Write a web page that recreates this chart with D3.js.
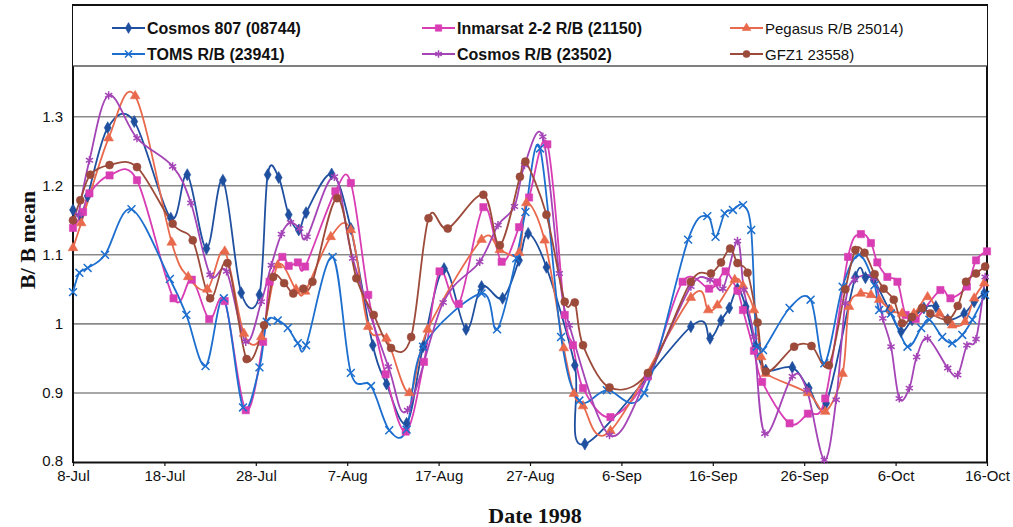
<!DOCTYPE html>
<html>
<head>
<meta charset="utf-8">
<script src="https://cdn.jsdelivr.net/npm/d3@7"></script>
<style>
  body { margin: 0; background: #fff; }
  svg { display: block; }
</style>
</head>
<body>
<svg id="chart" width="1013" height="527"></svg>
<script>
// Relative drag ratio B / B mean for six objects, summer-autumn 1998.
// Each point is [days after 8 Jul 1998, B / B mean].
const startDay = Date.UTC(1998, 6, 8);
const endDay = Date.UTC(1998, 9, 16);
const yTicks = [0.8, 0.9, 1, 1.1, 1.2, 1.3];

const seriesNames = [
  "Cosmos 807 (08744)", "Inmarsat 2-2 R/B (21150)", "Pegasus R/B 25014)",
  "TOMS R/B (23941)", "Cosmos R/B (23502)", "GFZ1 23558)"
];

const cosmos807 = [
  [0,1.165],[0.8,1.157],[1.6,1.185],[3.8,1.284],[6.7,1.293],[10.7,1.153],[12.5,1.216],
  [14.6,1.109],[16.4,1.208],[18.4,1.045],[20.4,1.042],[21.3,1.216],[22.5,1.212],[23.6,1.158],
  [24.7,1.136],[25.5,1.161],[28.3,1.217],[30.4,1.138],[32.8,0.969],[34.3,0.913],[36.5,0.856],
  [38.3,0.967],[40.6,1.080],[43.0,0.992],[44.7,1.054],[47.0,1.037],[48.8,1.092],[49.8,1.131],
  [51.8,1.082],[54.9,0.940],[56.0,0.826],[67.6,0.996],[69.7,0.979],[70.9,1.005],[71.8,1.023],
  [72.7,1.051],[73.6,1.025],[74.7,0.967],[75.8,0.933],[78.7,0.937],[80.5,0.907],[82.4,0.885],
  [85.6,1.068],[86.7,1.067],[87.6,1.064],[89.3,1.020],[90.6,0.989],[91.8,1.006],[93.1,1.023],
  [94.4,1.025],[95.7,1.006],[97.5,1.015],[98.6,1.032],[99.7,1.044]
];

const inmarsat = [
  [0,1.139],[1.1,1.162],[1.8,1.189],[4.0,1.215],[7.0,1.208],[11.0,1.037],[13.0,1.064],
  [14.9,1.007],[16.6,1.033],[18.9,0.875],[20.8,0.974],[21.5,1.061],[22.9,1.097],[23.6,1.084],
  [24.6,1.089],[25.4,1.083],[28.7,1.192],[30.4,1.204],[32.3,1.042],[34.2,0.927],[36.4,0.844],
  [38.4,0.945],[40.1,1.076],[42.2,1.029],[44.9,1.169],[46.9,1.090],[48.8,1.140],[49.9,1.183],
  [51.9,1.260],[53.8,1.013],[54.7,0.969],[55.8,0.907],[58.8,0.865],[62.9,0.924],[66.7,1.061],
  [69.6,1.051],[70.5,1.060],[71.4,1.076],[72.7,1.048],[73.3,1.020],[74.5,0.961],[75.4,0.916],
  [78.4,0.856],[80.4,0.870],[82.3,0.892],[84.8,1.097],[86.2,1.130],[87.3,1.117],[88.0,1.089],
  [89.1,1.068],[90.2,1.061],[91.1,1.013],[92.2,1.007],[94.9,1.049],[96.0,1.037],[97.8,1.054],
  [98.8,1.092],[100.0,1.105]
];

const pegasus = [
  [0,1.110],[0.9,1.146],[3.9,1.269],[6.8,1.330],[10.8,1.118],[12.6,1.068],[14.7,1.050],
  [16.6,1.105],[18.7,0.986],[20.6,0.981],[22.4,1.085],[24.4,1.050],[25.4,1.047],[28.2,1.126],
  [30.4,1.136],[32.3,0.996],[34.3,0.979],[36.8,0.900],[38.8,0.992],[44.7,1.122],[46.7,1.107],
  [48.8,1.103],[49.6,1.175],[51.6,1.121],[53.7,0.965],[54.8,0.899],[55.8,0.881],[58.8,0.845],
  [67.6,1.038],[69.5,1.020],[70.5,1.027],[72.4,1.064],[73.3,1.055],[74.5,1.020],[75.3,0.952],
  [75.8,0.928],[80.4,0.900],[82.3,0.873],[84.2,0.928],[84.9,1.025],[86.2,1.044],[87.3,1.042],
  [88.2,1.035],[89.5,1.020],[90.7,1.015],[92.0,1.015],[93.5,1.039],[94.8,1.015],[96.2,0.998],
  [97.6,1.003],[98.6,1.037],[99.7,1.059]
];

const toms = [
  [0,1.046],[0.7,1.074],[1.6,1.081],[3.5,1.100],[6.4,1.166],[10.6,1.065],[12.4,1.013],
  [14.5,0.939],[16.5,1.037],[18.6,0.879],[20.4,0.937],[21.2,1.003],[22.4,1.005],[23.5,0.994],
  [24.6,0.972],[25.5,0.969],[28.4,1.097],[30.4,0.929],[32.6,0.910],[34.6,0.846],[36.5,0.847],
  [38.3,0.967],[44.7,1.044],[46.4,0.992],[48.5,1.095],[49.5,1.162],[51.1,1.254],[53.4,0.981],
  [55.4,0.889],[58.4,0.904],[62.5,0.900],[67.3,1.122],[69.4,1.156],[70.3,1.126],[71.3,1.160],
  [72.2,1.165],[73.3,1.172],[74.2,1.136],[74.8,0.967],[75.5,0.962],[78.4,1.023],[80.7,1.035],
  [82.2,0.943],[84.2,1.054],[86.0,1.100],[87.7,1.056],[88.2,1.020],[89.5,1.015],[91.3,0.967],
  [92.8,0.994],[93.7,1.006],[95.1,0.981],[96.2,0.972],[97.3,0.984],[98.4,1.006],[99.8,1.042]
];

const cosmosRB = [
  [0.6,1.158],[1.8,1.237],[3.9,1.331],[7.0,1.269],[10.9,1.228],[12.9,1.175],[15.0,1.071],
  [16.8,1.076],[18.9,0.974],[20.6,1.032],[21.7,1.085],[22.8,1.130],[23.8,1.147],[24.8,1.138],
  [25.6,1.126],[28.6,1.213],[30.6,1.095],[34.5,0.938],[36.6,0.875],[40.5,1.031],[44.5,1.090],
  [46.5,1.143],[48.3,1.170],[49.4,1.230],[51.4,1.271],[53.2,1.073],[54.3,0.998],[58.7,0.839],
  [62.9,0.924],[67.6,1.054],[69.7,1.064],[71.1,1.051],[72.7,1.120],[73.4,1.049],[74.5,0.981],
  [75.7,0.841],[78.7,0.924],[80.3,0.904],[82.2,0.803],[83.5,0.890],[84.5,1.030],[85.5,1.064],
  [87.6,1.066],[88.6,1.008],[89.5,0.967],[90.4,0.892],[91.5,0.907],[92.3,0.952],[93.5,0.979],
  [95.7,0.936],[96.8,0.926],[97.8,0.969],[98.8,0.978],[99.8,1.068]
];

const gfz1 = [
  [0,1.150],[0.8,1.179],[1.9,1.216],[4.0,1.230],[7.0,1.227],[10.9,1.145],[13.1,1.121],
  [15.0,1.037],[16.9,1.088],[19.0,0.949],[20.9,0.998],[21.9,1.068],[23.1,1.059],[24.1,1.044],
  [25.2,1.051],[26.2,1.061],[28.9,1.182],[31.0,1.066],[32.9,1.013],[34.8,0.965],[37.0,0.981],
  [38.9,1.153],[41.0,1.138],[44.9,1.187],[46.7,1.114],[48.9,1.213],[49.5,1.235],[51.8,1.158],
  [53.8,1.032],[54.9,1.031],[55.8,0.969],[58.7,0.908],[62.9,0.929],[67.6,1.061],[69.8,1.073],
  [70.9,1.089],[71.9,1.109],[72.7,1.088],[73.8,1.074],[74.9,1.002],[75.8,0.931],[78.9,0.967],
  [80.8,0.968],[82.7,0.940],[84.5,1.050],[85.6,1.107],[86.6,1.103],[87.7,1.072],[88.7,1.051],
  [89.8,1.035],[90.7,1.001],[91.8,1.010],[92.9,1.023],[93.8,1.015],[95.7,1.006],[96.8,1.026],
  [97.7,1.061],[98.8,1.073],[99.8,1.083]
];

(function drawChart() {
  // Series styling: colour, marker shape, legend font weight
  const symTimes = d3.symbolTimes || d3.symbolCross;
  const symAsterisk = d3.symbolAsterisk || d3.symbolStar;
  const series = [
    { name: seriesNames[0], data: cosmos807, color: "#1f4f9f", symbol: d3.symbolDiamond, size: 42, filled: true,  bold: true,  col: 0, row: 0 },
    { name: seriesNames[1], data: inmarsat,  color: "#d83db4", symbol: d3.symbolSquare,  size: 52, filled: true,  bold: true,  col: 1, row: 0 },
    { name: seriesNames[2], data: pegasus,   color: "#e9694d", symbol: d3.symbolTriangle, size: 40, filled: true, bold: false, col: 2, row: 0 },
    { name: seriesNames[3], data: toms,      color: "#1d6fcf", symbol: symTimes,       size: 42, filled: false, bold: true,  col: 0, row: 1 },
    { name: seriesNames[4], data: cosmosRB,  color: "#a444b6", symbol: symAsterisk,    size: 48, filled: false, bold: true,  col: 1, row: 1 },
    { name: seriesNames[5], data: gfz1,      color: "#9c4a3a", symbol: d3.symbolCircle, size: 50, filled: true,  bold: false, col: 2, row: 1 }
  ];

  const svg = d3.select("#chart");
  const plotLeft = 73, plotRight = 987, plotTop = 5, plotBottom = 462, legendBottom = 66;

  const x = d3.scaleUtc().domain([startDay, endDay]).range([plotLeft, plotRight]);
  const y = d3.scaleLinear().domain([0.8, 1.3]).range([plotBottom, 116.7]);
  const dayToDate = d => new Date(startDay + d * 864e5);

  // Horizontal gridlines
  svg.append("g")
    .selectAll("line")
    .data(yTicks.filter(t => t > 0.8))
    .join("line")
    .attr("x1", plotLeft).attr("x2", plotRight)
    .attr("y1", d => y(d)).attr("y2", d => y(d))
    .attr("stroke", "#8a8a8a")
    .attr("stroke-width", 1.6);

  // X axis (every 10 days)
  const xTickValues = d3.range(0, 101, 10).map(dayToDate);
  const xAxis = svg.append("g")
    .attr("transform", `translate(0,${plotBottom})`)
    .call(d3.axisBottom(x).tickValues(xTickValues).tickFormat(d3.utcFormat("%-d-%b")).tickSize(4).tickSizeOuter(0));
  xAxis.select(".domain").attr("stroke", "#111").attr("stroke-width", 2);
  xAxis.selectAll(".tick line").attr("stroke", "#111").attr("stroke-width", 1.2);
  xAxis.selectAll(".tick text")
    .attr("y", 8).attr("dy", "0.71em")
    .attr("font-family", "'Liberation Sans', Arial, sans-serif")
    .attr("font-size", 15).attr("fill", "#111");

  // Y axis
  const yAxis = svg.append("g")
    .attr("transform", `translate(${plotLeft},0)`)
    .call(d3.axisLeft(y).tickValues(yTicks).tickFormat(d => String(d)).tickSize(0).tickSizeOuter(0));
  yAxis.select(".domain").remove();
  yAxis.selectAll(".tick text")
    .attr("x", -10)
    .attr("font-family", "'Liberation Sans', Arial, sans-serif")
    .attr("font-size", 15).attr("fill", "#111");
  yAxis.selectAll(".tick").filter(d => d === 0.8).select("text").attr("dy", "0.2em");

  // Plot frame
  svg.append("line").attr("x1", plotLeft).attr("x2", plotLeft).attr("y1", plotTop).attr("y2", plotBottom + 1)
    .attr("stroke", "#111").attr("stroke-width", 2);
  svg.append("line").attr("x1", plotRight).attr("x2", plotRight).attr("y1", plotTop).attr("y2", plotBottom + 1)
    .attr("stroke", "#111").attr("stroke-width", 2);

  // Series lines (Excel-style smoothed) and markers
  const line = d3.line()
    .x(p => x(dayToDate(p[0])))
    .y(p => y(p[1]))
    .curve(d3.curveCardinal.tension(0));

  const plot = svg.append("g");
  series.forEach(s => {
    plot.append("path")
      .datum(s.data)
      .attr("d", line)
      .attr("fill", "none")
      .attr("stroke", s.color)
      .attr("stroke-width", 1.8)
      .attr("stroke-linejoin", "round");
  });
  series.forEach(s => {
    const sym = d3.symbol().type(s.symbol).size(s.size);
    plot.append("g")
      .selectAll("path")
      .data(s.data)
      .join("path")
      .attr("transform", p => `translate(${x(dayToDate(p[0]))},${y(p[1])})`)
      .attr("d", sym)
      .attr("fill", s.filled ? s.color : "none")
      .attr("stroke", s.color)
      .attr("stroke-width", s.filled ? 0.6 : 1.5);
  });

  // Legend panel across the top of the plot area
  const legend = svg.append("g");
  legend.append("rect")
    .attr("x", plotLeft).attr("y", plotTop).attr("width", plotRight - plotLeft).attr("height", legendBottom - plotTop)
    .attr("fill", "#fff");
  legend.append("line").attr("x1", plotLeft - 1).attr("x2", plotRight + 1).attr("y1", plotTop).attr("y2", plotTop)
    .attr("stroke", "#111").attr("stroke-width", 2);
  legend.append("line").attr("x1", plotLeft).attr("x2", plotRight).attr("y1", legendBottom).attr("y2", legendBottom)
    .attr("stroke", "#555").attr("stroke-width", 1.6);

  const colX = [112, 422, 730];
  const rowY = [28, 54];
  series.forEach(s => {
    const gx = colX[s.col], gy = rowY[s.row];
    const g = legend.append("g");
    g.append("line").attr("x1", gx).attr("x2", gx + 33).attr("y1", gy).attr("y2", gy)
      .attr("stroke", s.color).attr("stroke-width", 1.8);
    g.append("path")
      .attr("transform", `translate(${gx + 16.5},${gy})`)
      .attr("d", d3.symbol().type(s.symbol).size(s.size * 0.8))
      .attr("fill", s.filled ? s.color : "none")
      .attr("stroke", s.color)
      .attr("stroke-width", s.filled ? 0.6 : 1.5);
    g.append("text")
      .attr("x", gx + 35).attr("y", gy + 5.5)
      .attr("font-family", "'Liberation Sans', Arial, sans-serif")
      .attr("font-size", s.bold ? 16 : 15)
      .attr("font-weight", s.bold ? "bold" : "normal")
      .attr("fill", "#111")
      .text(s.name);
  });

  // Axis titles
  svg.append("text")
    .attr("x", 535).attr("y", 523)
    .attr("text-anchor", "middle")
    .attr("font-family", "'Liberation Serif', 'Times New Roman', serif")
    .attr("font-size", 22).attr("font-weight", "bold").attr("fill", "#111")
    .text("Date 1998");

  svg.append("text")
    .attr("transform", "translate(35,240) rotate(-90)")
    .attr("text-anchor", "middle")
    .attr("font-family", "'Liberation Serif', 'Times New Roman', serif")
    .attr("font-size", 22).attr("font-weight", "bold").attr("fill", "#111")
    .text("B/ B mean");
})();
</script>
</body>
</html>
